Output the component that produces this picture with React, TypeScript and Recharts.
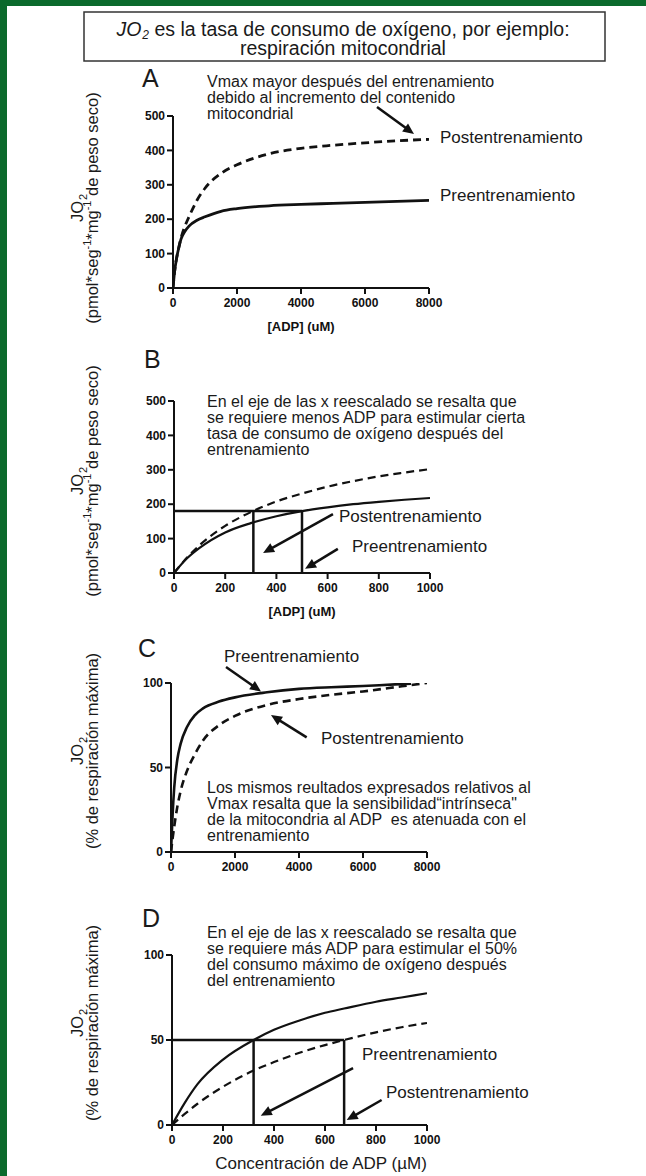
import { Line, LineChart, ReferenceLine, XAxis, YAxis } from "recharts";

const font = "'Liberation Sans', Arial, Helvetica, sans-serif";
const ink = "#111";
const green = "#0b6a2c";

// A: absolute JO2, ADP up to 8000 uM
const adpA = [0, 50, 100, 175, 250, 375, 500, 750, 1000, 1500, 2000, 3000, 4000, 5000, 6000, 7000, 8000];
const preA = [0, 48, 80, 115, 142, 165, 180, 197, 207, 223, 231, 239, 243, 246, 249, 252, 255];
const postA = [0, 48, 80, 115, 145, 180, 207, 255, 290, 333, 358, 390, 406, 415, 422, 428, 432];

// B: same data, x rescaled to 1000 uM
const adpB = [0, 50, 100, 200, 300, 400, 500, 600, 700, 800, 900, 1000];
const preB = [0, 42, 73, 118, 145, 165, 180, 191, 200, 207, 213, 218];
const postB = [0, 44, 81, 137, 177, 208, 231, 251, 267, 281, 292, 302];

// C: % of max respiration
const adpC = [0, 50, 100, 200, 300, 500, 750, 1000, 1500, 2000, 3000, 4000, 5000, 6000, 7000, 7500, 8000];
const preC = [0, 22, 38, 55, 64, 74, 81, 85, 89, 91.5, 94.5, 96.5, 97.5, 98.2, 99.2, 99.6, null];
const postC = [0, 8, 15, 27, 36, 48, 58, 66, 75, 80.5, 87, 90.5, 93, 95, 97.5, 98.8, 100];

// D: % of max, x rescaled
const adpD = [0, 50, 100, 200, 320, 400, 500, 600, 675, 800, 900, 1000];
const preD = [0, 13, 24, 38.5, 50, 56, 61.5, 66, 68.5, 72.5, 75, 77.5];
const postD = [0, 6.5, 12.5, 22.5, 32, 37, 42.5, 47, 50, 54.5, 57.5, 60];

const xTicksA = [0, 2000, 4000, 6000, 8000];
const xTicksB = [0, 200, 400, 600, 800, 1000];
const yTicksAbs = [0, 100, 200, 300, 400, 500];
const yTicksPct = [0, 50, 100];

// guide lines [x1, y1, x2, y2] in data units
const guidesB = [
  [0, 180, 500, 180],
  [310, 0, 310, 180],
  [500, 0, 500, 180],
];
const guidesD = [
  [0, 50, 675, 50],
  [320, 0, 320, 50],
  [675, 0, 675, 50],
];

// arrows [fromX, fromY, toX, toY] in data units
const arrowsA = [[6375, 526, 7531, 448]];
const arrowsB = [
  [621, 171, 348, 58],
  [640, 70, 512, 12],
];
const arrowsC = [
  [1719, 109.5, 2813, 95],
  [4240, 67.8, 3125, 81],
];
const arrowsD = [
  [710, 33.5, 348, 5.5],
  [822, 14.7, 685, 2.9],
];

const toRows = (xs: number[], pre: (number | null)[], post: number[]) =>
  xs.map((x, i) => ({ x, pre: pre[i], post: post[i] }));

const arrowShape = (p: any) => {
  const { x1, y1, x2, y2 } = p;
  const dx = x2 - x1;
  const dy = y2 - y1;
  const len = Math.hypot(dx, dy) || 1;
  const ux = dx / len;
  const uy = dy / len;
  const hl = 11;
  const hw = 5;
  const bx = x2 - ux * hl;
  const by = y2 - uy * hl;
  return (
    <g>
      <line x1={x1} y1={y1} x2={bx + ux} y2={by + uy} stroke={ink} strokeWidth={2.5} />
      <polygon
        points={`${x2},${y2} ${bx - uy * hw},${by + ux * hw} ${bx + uy * hw},${by - ux * hw}`}
        fill={ink}
      />
    </g>
  );
};

const tickStyle = { fill: ink, fontSize: 12, fontWeight: 700, fontFamily: font };

function Panel({
  rows,
  xMax,
  xTicks,
  yMax,
  yTicks,
  box,
  guides = [],
  arrows = [],
  lineWidth = 2.5,
}: {
  rows: any[];
  xMax: number;
  xTicks: number[];
  yMax: number;
  yTicks: number[];
  box: [number, number, number, number];
  guides?: number[][];
  arrows?: number[][];
  lineWidth?: number;
}) {
  const [l, r, t, b] = box;
  return (
    <div style={{ position: "absolute", left: 0, top: t - 40 }}>
      <LineChart
        width={646}
        height={b - t + 80}
        data={rows}
        margin={{ top: 40, right: 646 - r, bottom: 10, left: l - 40 }}
      >
        <XAxis
          dataKey="x"
          type="number"
          domain={[0, xMax]}
          ticks={xTicks}
          interval={0}
          allowDataOverflow
          height={30}
          tickSize={6}
          tickMargin={4}
          axisLine={{ stroke: ink, strokeWidth: 2 }}
          tickLine={{ stroke: ink, strokeWidth: 2 }}
          tick={tickStyle}
        />
        <YAxis
          type="number"
          domain={[0, yMax]}
          ticks={yTicks}
          interval={0}
          allowDataOverflow
          width={40}
          tickSize={6}
          tickMargin={2}
          axisLine={{ stroke: ink, strokeWidth: 2 }}
          tickLine={{ stroke: ink, strokeWidth: 2 }}
          tick={tickStyle}
        />
        {guides.map((g, i) => (
          <ReferenceLine
            key={`g${i}`}
            segment={[
              { x: g[0], y: g[1] },
              { x: g[2], y: g[3] },
            ]}
            stroke={ink}
            strokeWidth={2.5}
            ifOverflow="visible"
          />
        ))}
        <Line
          dataKey="pre"
          type="monotone"
          stroke={ink}
          strokeWidth={lineWidth}
          dot={false}
          isAnimationActive={false}
        />
        <Line
          dataKey="post"
          type="monotone"
          stroke={ink}
          strokeWidth={lineWidth}
          strokeDasharray="8 5"
          dot={false}
          isAnimationActive={false}
        />
        {arrows.map((a, i) => (
          <ReferenceLine
            key={`a${i}`}
            segment={[
              { x: a[0], y: a[1] },
              { x: a[2], y: a[3] },
            ]}
            ifOverflow="visible"
            shape={arrowShape}
          />
        ))}
      </LineChart>
    </div>
  );
}

const Lines = ({ x, y, lines, size = 16 }: { x: number; y: number; lines: string[]; size?: number }) => (
  <text x={x} y={y} fontSize={size} fill="#1a1a1a" style={{ whiteSpace: "pre" }}>
    {lines.map((s, i) => (
      <tspan key={i} x={x} y={y + i * 16}>
        {s}
      </tspan>
    ))}
  </text>
);

const YLabelAbs = ({ cy }: { cy: number }) => (
  <g fontSize={16.5} fill="#1a1a1a">
    <text transform={`translate(83 ${cy}) rotate(-90)`} textAnchor="middle">
      JO<tspan fontSize={11} dx={1} dy={4}>2</tspan>
    </text>
    <text transform={`translate(98 ${cy}) rotate(-90)`} textAnchor="middle">
      (pmol*seg<tspan fontSize={11} dy={-7}>-1</tspan>
      <tspan dy={7}>*mg</tspan>
      <tspan fontSize={11} dy={-7}>-1</tspan>
      <tspan dy={7}> de peso seco)</tspan>
    </text>
  </g>
);

const YLabelPct = ({ cy }: { cy: number }) => (
  <g fontSize={16.5} fill="#1a1a1a">
    <text transform={`translate(83 ${cy}) rotate(-90)`} textAnchor="middle">
      JO<tspan fontSize={11} dx={1} dy={4}>2</tspan>
    </text>
    <text transform={`translate(98 ${cy}) rotate(-90)`} textAnchor="middle">
      (% de respiración máxima)
    </text>
  </g>
);

export default function App() {
  return (
    <div
      style={{
        position: "absolute",
        left: 0,
        top: 0,
        width: 646,
        height: 1176,
        background: "#fff",
        overflow: "hidden",
        fontFamily: font,
      }}
    >
      <div style={{ position: "absolute", left: 0, top: 0, width: 646, height: 6, background: green }} />
      <div style={{ position: "absolute", left: 0, top: 0, width: 7, height: 1176, background: green }} />

      <Panel rows={toRows(adpA, preA, postA)} xMax={8000} xTicks={xTicksA} yMax={500} yTicks={yTicksAbs}
        box={[173, 429, 116, 288]} arrows={arrowsA} lineWidth={2.8} />
      <Panel rows={toRows(adpB, preB, postB)} xMax={1000} xTicks={xTicksB} yMax={500} yTicks={yTicksAbs}
        box={[174, 430, 401, 573]} guides={guidesB} arrows={arrowsB} lineWidth={2.2} />
      <Panel rows={toRows(adpC, preC, postC)} xMax={8000} xTicks={xTicksA} yMax={100} yTicks={yTicksPct}
        box={[171, 427, 683, 852]} arrows={arrowsC} lineWidth={2.6} />
      <Panel rows={toRows(adpD, preD, postD)} xMax={1000} xTicks={xTicksB} yMax={100} yTicks={yTicksPct}
        box={[172, 427, 955, 1125]} guides={guidesD} arrows={arrowsD} lineWidth={2.2} />

      <svg
        width={646}
        height={1176}
        style={{ position: "absolute", left: 0, top: 0, pointerEvents: "none" }}
        fontFamily={font}
      >
        <rect x={84} y={12} width={521} height={49} fill="none" stroke="#333" strokeWidth={1.5} />
        <text x={343} y={36} fontSize={19.5} textAnchor="middle" fill="#1a1a1a">
          <tspan fontStyle="italic">JO</tspan>
          <tspan fontStyle="italic" fontSize={12} dx={1} dy={3}>2</tspan>
          <tspan dy={-3}>{" es la tasa de consumo de oxígeno, por ejemplo:"}</tspan>
        </text>
        <text x={343} y={55} fontSize={19.5} textAnchor="middle" fill="#1a1a1a">
          respiración mitocondrial
        </text>

        <g fontSize={25} fill="#1a1a1a">
          <text x={142} y={87}>A</text>
          <text x={144} y={368}>B</text>
          <text x={138} y={657}>C</text>
          <text x={142} y={927}>D</text>
        </g>

        <Lines x={207} y={87} lines={["Vmax mayor después del entrenamiento", "debido al incremento del contenido", "mitocondrial"]} />
        <Lines x={207} y={407} lines={["En el eje de las x reescalado se resalta que", "se requiere menos ADP para estimular cierta", "tasa de consumo de oxígeno después del", "entrenamiento"]} />
        <Lines x={207} y={793} lines={["Los mismos reultados expresados relativos al", "Vmax resalta que la sensibilidad“intrínseca\"", "de la mitocondria al ADP  es atenuada con el", "entrenamiento"]} />
        <Lines x={207} y={938} lines={["En el eje de las x reescalado se resalta que", "se requiere más ADP para estimular el 50%", "del consumo máximo de oxígeno después", "del entrenamiento"]} />

        <g fontSize={17} fill="#1a1a1a">
          <text x={440} y={143}>Postentrenamiento</text>
          <text x={440} y={201}>Preentrenamiento</text>
          <text x={339} y={522}>Postentrenamiento</text>
          <text x={352} y={552}>Preentrenamiento</text>
          <text x={224} y={662}>Preentrenamiento</text>
          <text x={321} y={744}>Postentrenamiento</text>
          <text x={362} y={1060}>Preentrenamiento</text>
          <text x={386} y={1098}>Postentrenamiento</text>
        </g>

        <g fontSize={13} fontWeight={700} fill={ink} textAnchor="middle">
          <text x={301} y={331}>[ADP] (uM)</text>
          <text x={302} y={616}>[ADP] (uM)</text>
        </g>
        <text x={321} y={1169} fontSize={17} textAnchor="middle" fill="#1a1a1a">
          Concentración de ADP (µM)
        </text>

        <YLabelAbs cy={208} />
        <YLabelAbs cy={481} />
        <YLabelPct cy={751} />
        <YLabelPct cy={1023} />
      </svg>
    </div>
  );
}
